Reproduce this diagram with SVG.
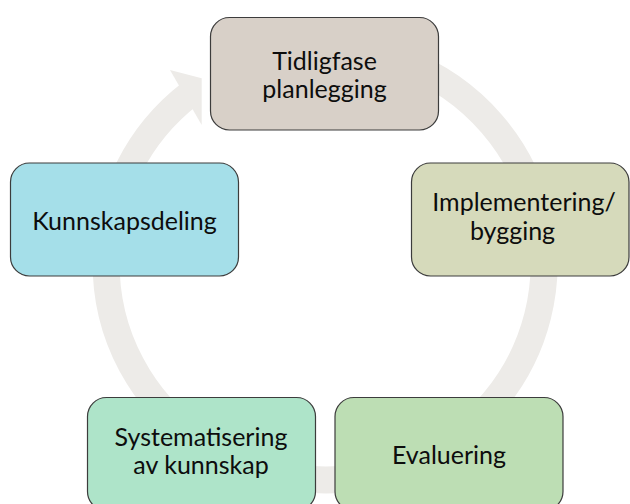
<svg xmlns="http://www.w3.org/2000/svg" width="630" height="504" viewBox="0 0 630 504">
  <style>
    .box { stroke: #3c3c3c; stroke-width: 1.2; }
    .label { font-family: Lato, "Liberation Sans", sans-serif; font-size: 25px; fill: #0d0d0d; text-anchor: middle; }
    .ring { fill: none; stroke: #edebe8; stroke-width: 27; stroke-linecap: butt; }
    .head { fill: #edebe8; }
  </style>

  <!-- circular flow arrow behind the boxes -->
  <g id="connectors">
    <path class="ring" d="M 305.9 48.8 A 219 216 0 1 1 190.2 93.8"/>
    <polygon class="head" points="170,70 201.7,78.3 201.7,125"/>
  </g>

  <g id="node-tidligfase">
    <rect class="box" x="210.5" y="17.5" width="228" height="112.5" rx="19" fill="#d8d0c8"/>
    <text class="label" x="324.5" y="70">Tidligfase</text>
    <text class="label" x="324.5" y="98">planlegging</text>
  </g>

  <g id="node-implementering">
    <rect class="box" x="411.5" y="163" width="217.5" height="113" rx="19" fill="#d6dabb"/>
    <text class="label" x="524" y="211">Implementering/</text>
    <text class="label" x="512.5" y="240">bygging</text>
  </g>

  <g id="node-evaluering">
    <rect class="box" x="335" y="397.5" width="228" height="113" rx="19" fill="#bddeb4"/>
    <text class="label" x="449" y="463.5">Evaluering</text>
  </g>

  <g id="node-systematisering">
    <rect class="box" x="87.5" y="397.5" width="228" height="113" rx="19" fill="#aee4c9"/>
    <text class="label" x="201" y="445.5">Systematisering</text>
    <text class="label" x="201" y="473.5">av kunnskap</text>
  </g>

  <g id="node-kunnskapsdeling">
    <rect class="box" x="10.5" y="163" width="228" height="113" rx="19" fill="#a5dfe9"/>
    <text class="label" x="124.5" y="230">Kunnskapsdeling</text>
  </g>
</svg>
